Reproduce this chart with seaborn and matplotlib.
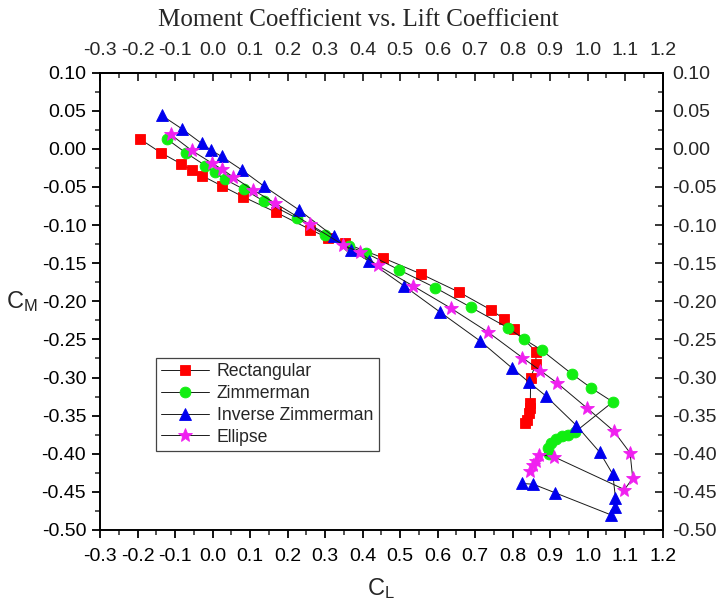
''' Moment coefficient vs. lift coefficient for four planforms '''

import matplotlib
matplotlib.use('Agg')
import pandas as pd
import matplotlib.pyplot as plt
import seaborn as sns
from matplotlib.ticker import MultipleLocator, FormatStrFormatter

# values
rect_cl = [-0.194, -0.138, -0.083, -0.056, -0.029, 0.026, 0.082, 0.168, 0.261, 0.308,
           0.354, 0.454, 0.555, 0.657, 0.741, 0.777, 0.804, 0.862, 0.862, 0.848,
           0.847, 0.845, 0.843, 0.837, 0.834]
rect_cm = [0.013, -0.005, -0.020, -0.028, -0.035, -0.049, -0.063, -0.083, -0.106, -0.117,
           -0.124, -0.143, -0.164, -0.188, -0.211, -0.223, -0.237, -0.266, -0.282, -0.300,
           -0.334, -0.340, -0.347, -0.356, -0.360]

zimm_cl = [-0.122, -0.072, -0.019, 0.006, 0.033, 0.083, 0.138, 0.225, 0.300, 0.363,
           0.410, 0.498, 0.593, 0.689, 0.788, 0.831, 0.877, 0.957, 1.010, 1.067,
           0.965, 0.947, 0.931, 0.915, 0.902, 0.894, 0.897]
zimm_cm = [0.013, -0.005, -0.022, -0.031, -0.040, -0.053, -0.069, -0.091, -0.113, -0.128,
           -0.137, -0.159, -0.182, -0.208, -0.235, -0.250, -0.264, -0.295, -0.314, -0.332,
           -0.372, -0.375, -0.377, -0.381, -0.386, -0.392, -0.400]

inv_cl = [-0.136, -0.081, -0.029, -0.003, 0.024, 0.079, 0.137, 0.230, 0.323, 0.369,
          0.416, 0.511, 0.606, 0.713, 0.797, 0.843, 0.888, 0.970, 1.032, 1.067,
          1.074, 1.072, 1.061, 0.912, 0.855, 0.824]
inv_cm = [0.044, 0.026, 0.007, -0.002, -0.010, -0.028, -0.049, -0.080, -0.115, -0.133,
          -0.147, -0.180, -0.214, -0.252, -0.287, -0.306, -0.324, -0.363, -0.398, -0.427,
          -0.458, -0.470, -0.480, -0.451, -0.440, -0.439]

ell_cl = [-0.112, -0.056, -0.001, 0.026, 0.055, 0.108, 0.166, 0.259, 0.348, 0.392,
          0.440, 0.535, 0.635, 0.733, 0.826, 0.874, 0.918, 0.998, 1.069, 1.113,
          1.120, 1.098, 0.910, 0.870, 0.862, 0.855, 0.846]
ell_cm = [0.019, -0.002, -0.019, -0.027, -0.037, -0.054, -0.071, -0.099, -0.126, -0.136,
          -0.153, -0.180, -0.209, -0.240, -0.274, -0.291, -0.307, -0.340, -0.370, -0.399,
          -0.432, -0.447, -0.404, -0.401, -0.410, -0.415, -0.422]

series_names = ['Rectangular', 'Zimmerman', 'Inverse Zimmerman', 'Ellipse']


def draw_series(ax, name, cl, cm, marker, color, size):
    ''' one polar: thin black line, coloured markers '''
    df = pd.DataFrame({'CL': cl, 'CM': cm})
    sns.lineplot(data=df, x='CL', y='CM', sort=False, estimator=None, ax=ax,
                 color='#1a1a1a', lw=0.7, marker=marker, markersize=size,
                 markerfacecolor=color, markeredgecolor=color, markeredgewidth=0.6,
                 label=name)


sns.set_style('ticks')
plt.rcParams['font.family'] = ['Liberation Sans', 'DejaVu Sans']
plt.rcParams['axes.unicode_minus'] = False

fig = plt.figure(figsize=(7.16, 6.07), dpi=100)
ax = fig.add_axes([0.1397, 0.1269, 0.7859, 0.7535])

draw_series(ax, series_names[0], rect_cl, rect_cm, 's', '#ff0000', 7.5)
draw_series(ax, series_names[1], zimm_cl, zimm_cm, 'o', '#11ee11', 7.8)
draw_series(ax, series_names[2], inv_cl, inv_cm, '^', '#0000ee', 9)
draw_series(ax, series_names[3], ell_cl, ell_cm, '*', '#f020f0', 10.5)

ax.set_xlim(-0.3, 1.2)
ax.set_ylim(-0.5, 0.1)

tick_font = 14
for axis, major, minor, fmt in [(ax.xaxis, 0.1, 0.05, '%.1f'), (ax.yaxis, 0.05, 0.025, '%.2f')]:
    axis.set_major_locator(MultipleLocator(major))
    axis.set_minor_locator(MultipleLocator(minor))
    axis.set_major_formatter(FormatStrFormatter(fmt))

ax.tick_params(axis='x', which='major', direction='out', length=6, width=1.3, pad=7,
               labelsize=tick_font, colors='black')
ax.tick_params(axis='y', which='major', direction='out', length=6, width=1.3, pad=4,
               labelsize=tick_font, colors='black')
ax.tick_params(which='minor', direction='out', length=3.5, width=1.1)

# top and right axes: same scale, ticks pointing in
secx = ax.secondary_xaxis('top')
secx.xaxis.set_major_locator(MultipleLocator(0.1))
secx.xaxis.set_minor_locator(MultipleLocator(0.05))
secx.xaxis.set_major_formatter(FormatStrFormatter('%.1f'))
secx.tick_params(which='major', direction='in', length=6, width=1.3, pad=10, labelsize=tick_font)
secx.tick_params(which='minor', direction='in', length=3.5, width=1.1)

secy = ax.secondary_yaxis('right')
secy.yaxis.set_major_locator(MultipleLocator(0.05))
secy.yaxis.set_minor_locator(MultipleLocator(0.025))
secy.yaxis.set_major_formatter(FormatStrFormatter('%.2f'))
secy.tick_params(which='major', direction='in', length=6, width=1.3, pad=7, labelsize=tick_font)
secy.tick_params(which='minor', direction='in', length=3.5, width=1.1)

for sp in list(ax.spines.values()) + [secx.spines['top'], secy.spines['right']]:
    sp.set_linewidth(1.4)
    sp.set_color('black')

ax.set_xlabel(r'$\mathregular{C_L}$', fontsize=17, labelpad=8)
ax.set_ylabel(r'$\mathregular{C_M}$', fontsize=17, rotation=0, labelpad=14, va='center')

fig.suptitle('Moment Coefficient vs. Lift Coefficient', family='Liberation Serif',
             fontsize=18, y=0.985)

ax.legend(loc='upper left', bbox_to_anchor=(0.0995, 0.377), fontsize=12.7,
          frameon=True, fancybox=False, edgecolor='#444444', framealpha=1,
          labelspacing=0.28, handlelength=2.7, handletextpad=0.45, borderpad=0.3,
          borderaxespad=0)
ax.get_legend().get_frame().set_linewidth(0.9)

fig.savefig('out.png', dpi=100)
